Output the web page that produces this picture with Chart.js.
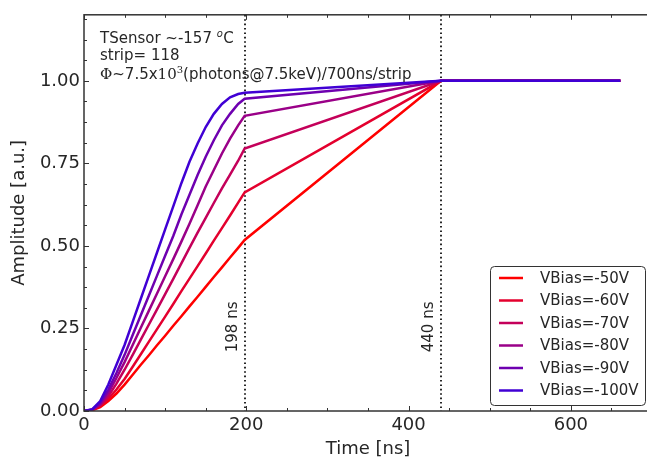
<!DOCTYPE html>
<html>
<head>
<meta charset="utf-8">
<script src="https://cdn.jsdelivr.net/npm/chart.js@4.4.1/dist/chart.umd.min.js"></script>
<style>
  html, body { margin: 0; padding: 0; background: #fff; overflow: hidden; }
  #wrap { width: 660px; height: 458px; position: relative; }
</style>
</head>
<body>
<div id="wrap"><canvas id="chart"></canvas></div>
<script>
// sample times [ns]
const times = [0, 10, 20, 30, 40, 50, 60, 70, 80, 90, 100, 110, 120, 130, 140, 150, 160, 170, 180, 190, 198, 440, 661];

// normalised amplitude for each bias voltage
const v50  = [0, 0.002, 0.012, 0.030, 0.053, 0.080, 0.110, 0.140, 0.169, 0.199, 0.228, 0.258, 0.287, 0.317, 0.346, 0.376, 0.406, 0.435, 0.465, 0.494, 0.518, 1.0, 1.0];
const v60  = [0, 0.003, 0.015, 0.037, 0.065, 0.097, 0.134, 0.172, 0.210, 0.248, 0.286, 0.324, 0.363, 0.401, 0.439, 0.477, 0.516, 0.554, 0.592, 0.631, 0.662, 1.0, 1.0];
const v70  = [0, 0.003, 0.018, 0.045, 0.083, 0.125, 0.170, 0.216, 0.262, 0.308, 0.354, 0.400, 0.447, 0.494, 0.540, 0.585, 0.630, 0.674, 0.716, 0.758, 0.795, 1.0, 1.0];
const v80  = [0, 0.004, 0.020, 0.055, 0.100, 0.148, 0.200, 0.252, 0.304, 0.356, 0.408, 0.460, 0.513, 0.567, 0.623, 0.680, 0.730, 0.780, 0.825, 0.865, 0.894, 1.0, 1.0];
const v90  = [0, 0.004, 0.025, 0.065, 0.115, 0.170, 0.230, 0.290, 0.350, 0.410, 0.470, 0.530, 0.595, 0.655, 0.715, 0.770, 0.820, 0.865, 0.900, 0.930, 0.946, 1.0, 1.0];
const v100 = [0, 0.005, 0.030, 0.080, 0.140, 0.200, 0.270, 0.340, 0.410, 0.480, 0.550, 0.620, 0.690, 0.755, 0.810, 0.860, 0.900, 0.930, 0.950, 0.960, 0.964, 1.0, 1.0];

const seriesLabels = ["VBias=-50V", "VBias=-60V", "VBias=-70V", "VBias=-80V", "VBias=-90V", "VBias=-100V"];
const seriesValues = [v50, v60, v70, v80, v90, v100];
const seriesColors = ["#ff0000", "#e4002e", "#c4005a", "#9a0088", "#6e00b0", "#4000d4"];

// vertical markers
const markerTimes = [198, 440];
const markerLabels = ["198 ns", "440 ns"];

const xTickLabels = [0, 200, 400, 600];
const yTickLabels = [0, 0.25, 0.5, 0.75, 1.0];

const FONT = "'DejaVu Sans', sans-serif";
const INK = "#262626";

document.addEventListener("DOMContentLoaded", () => {
  const ctx = document.getElementById("chart").getContext("2d");

  const datasets = seriesValues.map((vals, i) => ({
    label: seriesLabels[i],
    data: vals.map((v, k) => ({ x: times[k], y: v })),
    borderColor: seriesColors[i],
    backgroundColor: seriesColors[i],
    borderWidth: 2.5,
    pointRadius: 0,
    tension: 0,
    fill: false,
    order: seriesValues.length - i
  }));

  const markers = {
    id: "markers",
    beforeDatasetsDraw(chart) {
      const { ctx, chartArea: a, scales: { x, y } } = chart;
      ctx.save();
      ctx.strokeStyle = "#111";
      ctx.lineWidth = 1.8;
      ctx.setLineDash([1.6, 2.8]);
      markerTimes.forEach((t, i) => {
        const px = Math.round(x.getPixelForValue(t));
        ctx.beginPath();
        ctx.moveTo(px, a.top);
        ctx.lineTo(px, a.bottom);
        ctx.stroke();
      });
      ctx.setLineDash([]);
      ctx.fillStyle = INK;
      ctx.font = "15px " + FONT;
      ctx.textAlign = "left";
      ctx.textBaseline = "alphabetic";
      markerTimes.forEach((t, i) => {
        const px = x.getPixelForValue(t);
        ctx.save();
        ctx.translate(px - 8, y.getPixelForValue(0.178));
        ctx.rotate(-Math.PI / 2);
        ctx.fillText(markerLabels[i], 0, 0);
        ctx.restore();
      });
      ctx.restore();
    },
    afterDraw(chart) {
      const { ctx, chartArea: a, scales: { x, y } } = chart;
      ctx.save();

      // inward ticks, all four sides
      ctx.strokeStyle = "#333";
      ctx.lineWidth = 1;
      for (let v = 0; v <= 700; v += 50) {
        const px = Math.round(x.getPixelForValue(v)) + 0.5;
        const len = v % 200 === 0 ? 5 : 3;
        ctx.beginPath();
        ctx.moveTo(px, a.bottom); ctx.lineTo(px, a.bottom - len);
        ctx.moveTo(px, a.top); ctx.lineTo(px, a.top + len);
        ctx.stroke();
      }
      for (let k = 0; k <= 19; k++) {
        const v = k * 0.0625;
        const py = Math.round(y.getPixelForValue(v)) + 0.5;
        const len = k % 4 === 0 ? 5 : 3;
        ctx.beginPath();
        ctx.moveTo(a.left, py); ctx.lineTo(a.left + len, py);
        ctx.moveTo(a.right, py); ctx.lineTo(a.right - len, py);
        ctx.stroke();
      }

      // frame
      ctx.strokeStyle = "#333";
      ctx.lineWidth = 1.5;
      ctx.strokeRect(a.left, a.top, a.right - a.left, a.bottom - a.top);

      // annotation text
      ctx.fillStyle = INK;
      ctx.textBaseline = "alphabetic";
      ctx.textAlign = "left";
      const tx = 100;
      ctx.font = "15px " + FONT;
      let cx = tx;
      ctx.fillText("TSensor ~-157 ", cx, 43);
      cx += ctx.measureText("TSensor ~-157 ").width;
      ctx.font = "italic 10px " + FONT;
      ctx.fillText("o", cx, 37);
      cx += ctx.measureText("o").width + 0.5;
      ctx.font = "15px " + FONT;
      ctx.fillText("C", cx, 43);
      ctx.fillText("strip= 118", tx, 60);

      const parts = [
        ["Φ", "15px 'DejaVu Serif', serif", 0],
        ["~7.5x", "15px " + FONT, 0],
        ["10", "15px 'DejaVu Serif', serif", 0],
        ["3", "10px 'DejaVu Serif', serif", -6],
        ["(photons@7.5keV)/700ns/strip", "15px " + FONT, 0]
      ];
      cx = tx;
      parts.forEach(([s, f, dy]) => {
        ctx.font = f;
        ctx.fillText(s, cx, 79 + dy);
        cx += ctx.measureText(s).width;
      });

      // legend
      const lx = 490, ly = 266, lw = 155, lh = 139;
      ctx.beginPath();
      ctx.roundRect(lx + 0.5, ly + 0.5, lw, lh, 4);
      ctx.fillStyle = "rgba(255,255,255,0.9)";
      ctx.fill();
      ctx.strokeStyle = "#333";
      ctx.lineWidth = 1;
      ctx.stroke();
      ctx.font = "15px " + FONT;
      ctx.textBaseline = "middle";
      chart.data.datasets.forEach((ds, i) => {
        const ry = 278 + i * 22.5;
        ctx.strokeStyle = ds.borderColor;
        ctx.lineWidth = 2.5;
        ctx.beginPath();
        ctx.moveTo(499, ry);
        ctx.lineTo(523, ry);
        ctx.stroke();
        ctx.fillStyle = INK;
        ctx.fillText(ds.label, 540, ry + 1);
      });

      ctx.restore();
    }
  };

  new Chart(ctx, {
    type: "line",
    data: { datasets },
    options: {
      responsive: true,
      maintainAspectRatio: false,
      animation: false,
      layout: { padding: { top: 14, right: 8, left: 0, bottom: 0 } },
      plugins: { legend: { display: false }, tooltip: { enabled: false } },
      scales: {
        x: {
          type: "linear",
          min: 0,
          max: 700,
          afterFit: s => { s.height = 47; },
          afterBuildTicks: s => { s.ticks = xTickLabels.map(v => ({ value: v })); },
          ticks: {
            color: INK,
            font: { family: FONT, size: 18 },
            padding: 4,
            maxRotation: 0,
            callback: v => String(v)
          },
          grid: { display: false, drawTicks: false },
          border: { display: false },
          title: {
            display: true,
            text: "Time [ns]",
            color: INK,
            font: { family: FONT, size: 18 },
            padding: { top: 0, bottom: -2 }
          }
        },
        y: {
          type: "linear",
          min: 0,
          max: 1.2,
          afterFit: s => { s.width = 84; },
          afterBuildTicks: s => { s.ticks = yTickLabels.map(v => ({ value: v })); },
          ticks: {
            color: INK,
            font: { family: FONT, size: 18 },
            padding: 4,
            callback: v => Number(v).toFixed(2)
          },
          grid: { display: false, drawTicks: false },
          border: { display: false },
          title: {
            display: true,
            text: "Amplitude [a.u.]",
            color: INK,
            font: { family: FONT, size: 18 },
            padding: { top: 9, bottom: 0 }
          }
        }
      }
    },
    plugins: [markers]
  });
});
</script>
</body>
</html>
